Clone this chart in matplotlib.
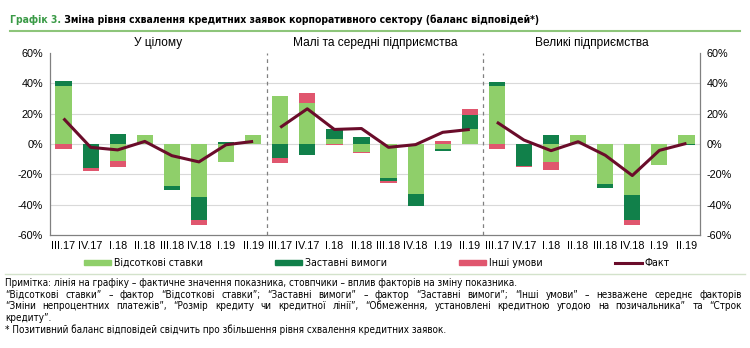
import numpy as np
import matplotlib
matplotlib.use('Agg')
import matplotlib.pyplot as plt
from matplotlib import font_manager
from matplotlib.lines import Line2D
from matplotlib.patches import Patch

# quarters repeated for each of the three panels
quarters = ['III.17', 'IV.17', 'I.18', 'II.18', 'III.18', 'IV.18', 'I.19', 'II.19']
panel_titles = ['У цілому', 'Малі та середні підприємства', 'Великі підприємства']

# factor contributions, percentage points (total / SME / large)
rates_total = [38.5, 0.0, -11.2, 5.9, -28.0, -35.2, -11.8, 5.9]
rates_sme = [31.7, 27.1, 3.5, -5.0, -22.5, -32.8, -3.3, 9.8]
rates_large = [38.3, 0.0, -11.6, 5.9, -26.3, -33.9, -13.6, 5.7]

collateral_total = [2.9, -15.5, 6.3, 0.0, -2.2, -15.1, 1.0, 0.0]
collateral_sme = [-9.4, -7.4, 6.3, 4.4, -2.2, -7.9, -1.5, 9.5]
collateral_large = [2.8, -14.2, 5.7, 0.0, -2.6, -16.0, 0.0, -0.5]

other_total = [-3.3, -2.2, -3.7, 0.0, 0.0, -3.3, 0.0, 0.0]
other_sme = [-2.9, 6.4, -0.9, -0.9, -1.1, 0.0, 2.2, 3.5]
other_large = [-3.3, -0.7, -5.5, 0.0, 0.0, -3.3, 0.0, 0.0]

# actual balance of answers
fact_total = [16.8, -2.2, -3.9, 1.7, -7.7, -11.8, -0.5, 1.7]
fact_sme = [10.9, 23.2, 9.6, 10.2, -2.2, -0.4, 7.7, 9.6]
fact_large = [14.4, 2.6, -4.4, 1.5, -7.4, -20.8, -4.2, 0.4]

series_labels = ['Відсоткові ставки', 'Заставні вимоги', 'Інші умови', 'Факт']
yticks = [-60, -40, -20, 0, 20, 40, 60]

title_head = 'Графік 3.'
title_rest = ' Зміна рівня схвалення кредитних заявок корпоративного сектору (баланс відповідей*)'
notes = [
    'Примітка: лінія на графіку – фактичне значення показника, стовпчики – вплив факторів на зміну показника.',
    '“Відсоткові ставки” – фактор “Відсоткові ставки”; “Заставні вимоги” – фактор “Заставні вимоги”; “Інші умови” – незважене середнє факторів',
    '“Зміни непроцентних платежів”, “Розмір кредиту чи кредитної лінії”, “Обмеження, установлені кредитною угодою на позичальника” та “Строк',
    'кредиту”.',
    '* Позитивний баланс відповідей свідчить про збільшення рівня схвалення кредитних заявок.',
]
justified = [False, True, True, False, False]

C_RATES = '#8fcf6a'
C_COLL = '#11804a'
C_OTHER = '#e0566e'
C_FACT = '#6a0c2a'
C_GRID = '#d9d9d9'
C_AXIS = '#808080'

plt.rcParams['font.family'] = ['Liberation Sans', 'DejaVu Sans']
names = {f.name for f in font_manager.fontManager.ttflist}
if 'Liberation Sans Narrow' in names:
    NARROW = dict(family=['Liberation Sans Narrow', 'DejaVu Sans'])
else:
    NARROW = dict(family=['DejaVu Sans'], stretch='condensed')

W, H = 750, 348
fig = plt.figure(figsize=(W / 100, H / 100), dpi=100)
ax = fig.add_axes([50 / W, 1 - 235 / H, 650 / W, 182 / H])

rates = np.array(rates_total + rates_sme + rates_large)
collateral = np.array(collateral_total + collateral_sme + collateral_large)
other = np.array(other_total + other_sme + other_large)
fact = [fact_total, fact_sme, fact_large]
x = np.arange(len(rates))

# stacked bars, positive and negative parts stacked separately
pos = np.zeros(len(x))
neg = np.zeros(len(x))
for vals, col in [(rates, C_RATES), (collateral, C_COLL), (other, C_OTHER)]:
    base = np.where(vals >= 0, pos, neg)
    ax.bar(x, vals, bottom=base, width=0.6, color=col, zorder=2)
    pos = pos + np.clip(vals, 0, None)
    neg = neg + np.clip(vals, None, 0)

n = len(quarters)
for p, vals in enumerate(fact):
    ax.plot(x[p * n:(p + 1) * n], vals, color=C_FACT, lw=2.2, zorder=3,
            solid_capstyle='butt')
    ax.text(p * n + (n - 1) / 2, 1.055, panel_titles[p], ha='center', va='center',
            fontsize=8.6, transform=ax.get_xaxis_transform())
    if p > 0:
        ax.axvline(p * n - 0.5, color=C_AXIS, lw=0.9, ls=(0, (3, 3)), zorder=1)

for t in yticks[1:-1]:
    ax.axhline(t, color=C_GRID, lw=0.8, zorder=0)

ax.set_xlim(-0.5, len(x) - 0.5)
ax.set_ylim(yticks[0], yticks[-1])
ax.set_yticks(yticks)
ax.set_yticklabels([f'{t}%' for t in yticks])
ax.set_xticks(x)
ax.set_xticklabels(quarters * 3)
ax.tick_params(axis='y', length=0, labelsize=7.8, pad=5, right=True, labelright=True)
ax.tick_params(axis='x', length=0, labelsize=7.8, pad=4)
ax.spines['top'].set_visible(False)
for s in ['left', 'right', 'bottom']:
    ax.spines[s].set_color(C_AXIS)
    ax.spines[s].set_linewidth(0.9)

handles = [Patch(color=C_RATES), Patch(color=C_COLL), Patch(color=C_OTHER),
           Line2D([], [], color=C_FACT, lw=2.2)]
fsz = 7.6
px = fsz * 100 / 72
fig.legend(handles, series_labels, loc='center left', bbox_to_anchor=(84 / W, 1 - 263 / H),
           ncol=4, frameon=False, borderpad=0, borderaxespad=0,
           columnspacing=72 / px, handlelength=27 / px, handletextpad=3 / px,
           handleheight=0.4, prop=dict(size=fsz, **NARROW))

# header with a coloured prefix
renderer = fig.canvas.get_renderer()
head = fig.text(10 / W, 1 - 20 / H, title_head, color='#3a9a46', fontsize=7.5,
                fontweight='bold', va='center', **NARROW)
hw = head.get_window_extent(renderer).width
fig.text((10 + hw) / W, 1 - 20 / H, title_rest, color='black', fontsize=7.5,
         fontweight='bold', va='center', **NARROW)
fig.add_artist(Line2D([10 / W, 740 / W], [1 - 31 / H] * 2, color='#8dc57a', lw=1.5))
fig.add_artist(Line2D([5 / W, 745 / W], [1 - 273.5 / H] * 2, color='#d3e2cb', lw=1))

# footnotes; the long lines are spread to the full text width
nsz = 7.1
x0, x1 = 5, 742
for i, (line, just) in enumerate(zip(notes, justified)):
    y = 1 - (283 + i * 11.7) / H
    if not just:
        fig.text(x0 / W, y, line, fontsize=nsz, va='center', **NARROW)
        continue
    words = line.split(' ')
    texts = [fig.text(0, y, w, fontsize=nsz, va='center', **NARROW) for w in words]
    widths = [t.get_window_extent(renderer).width for t in texts]
    gap = (x1 - x0 - sum(widths)) / (len(words) - 1)
    pos_x = x0
    for t, w in zip(texts, widths):
        t.set_x(pos_x / W)
        pos_x += w + gap

fig.savefig('out.png', dpi=100)
